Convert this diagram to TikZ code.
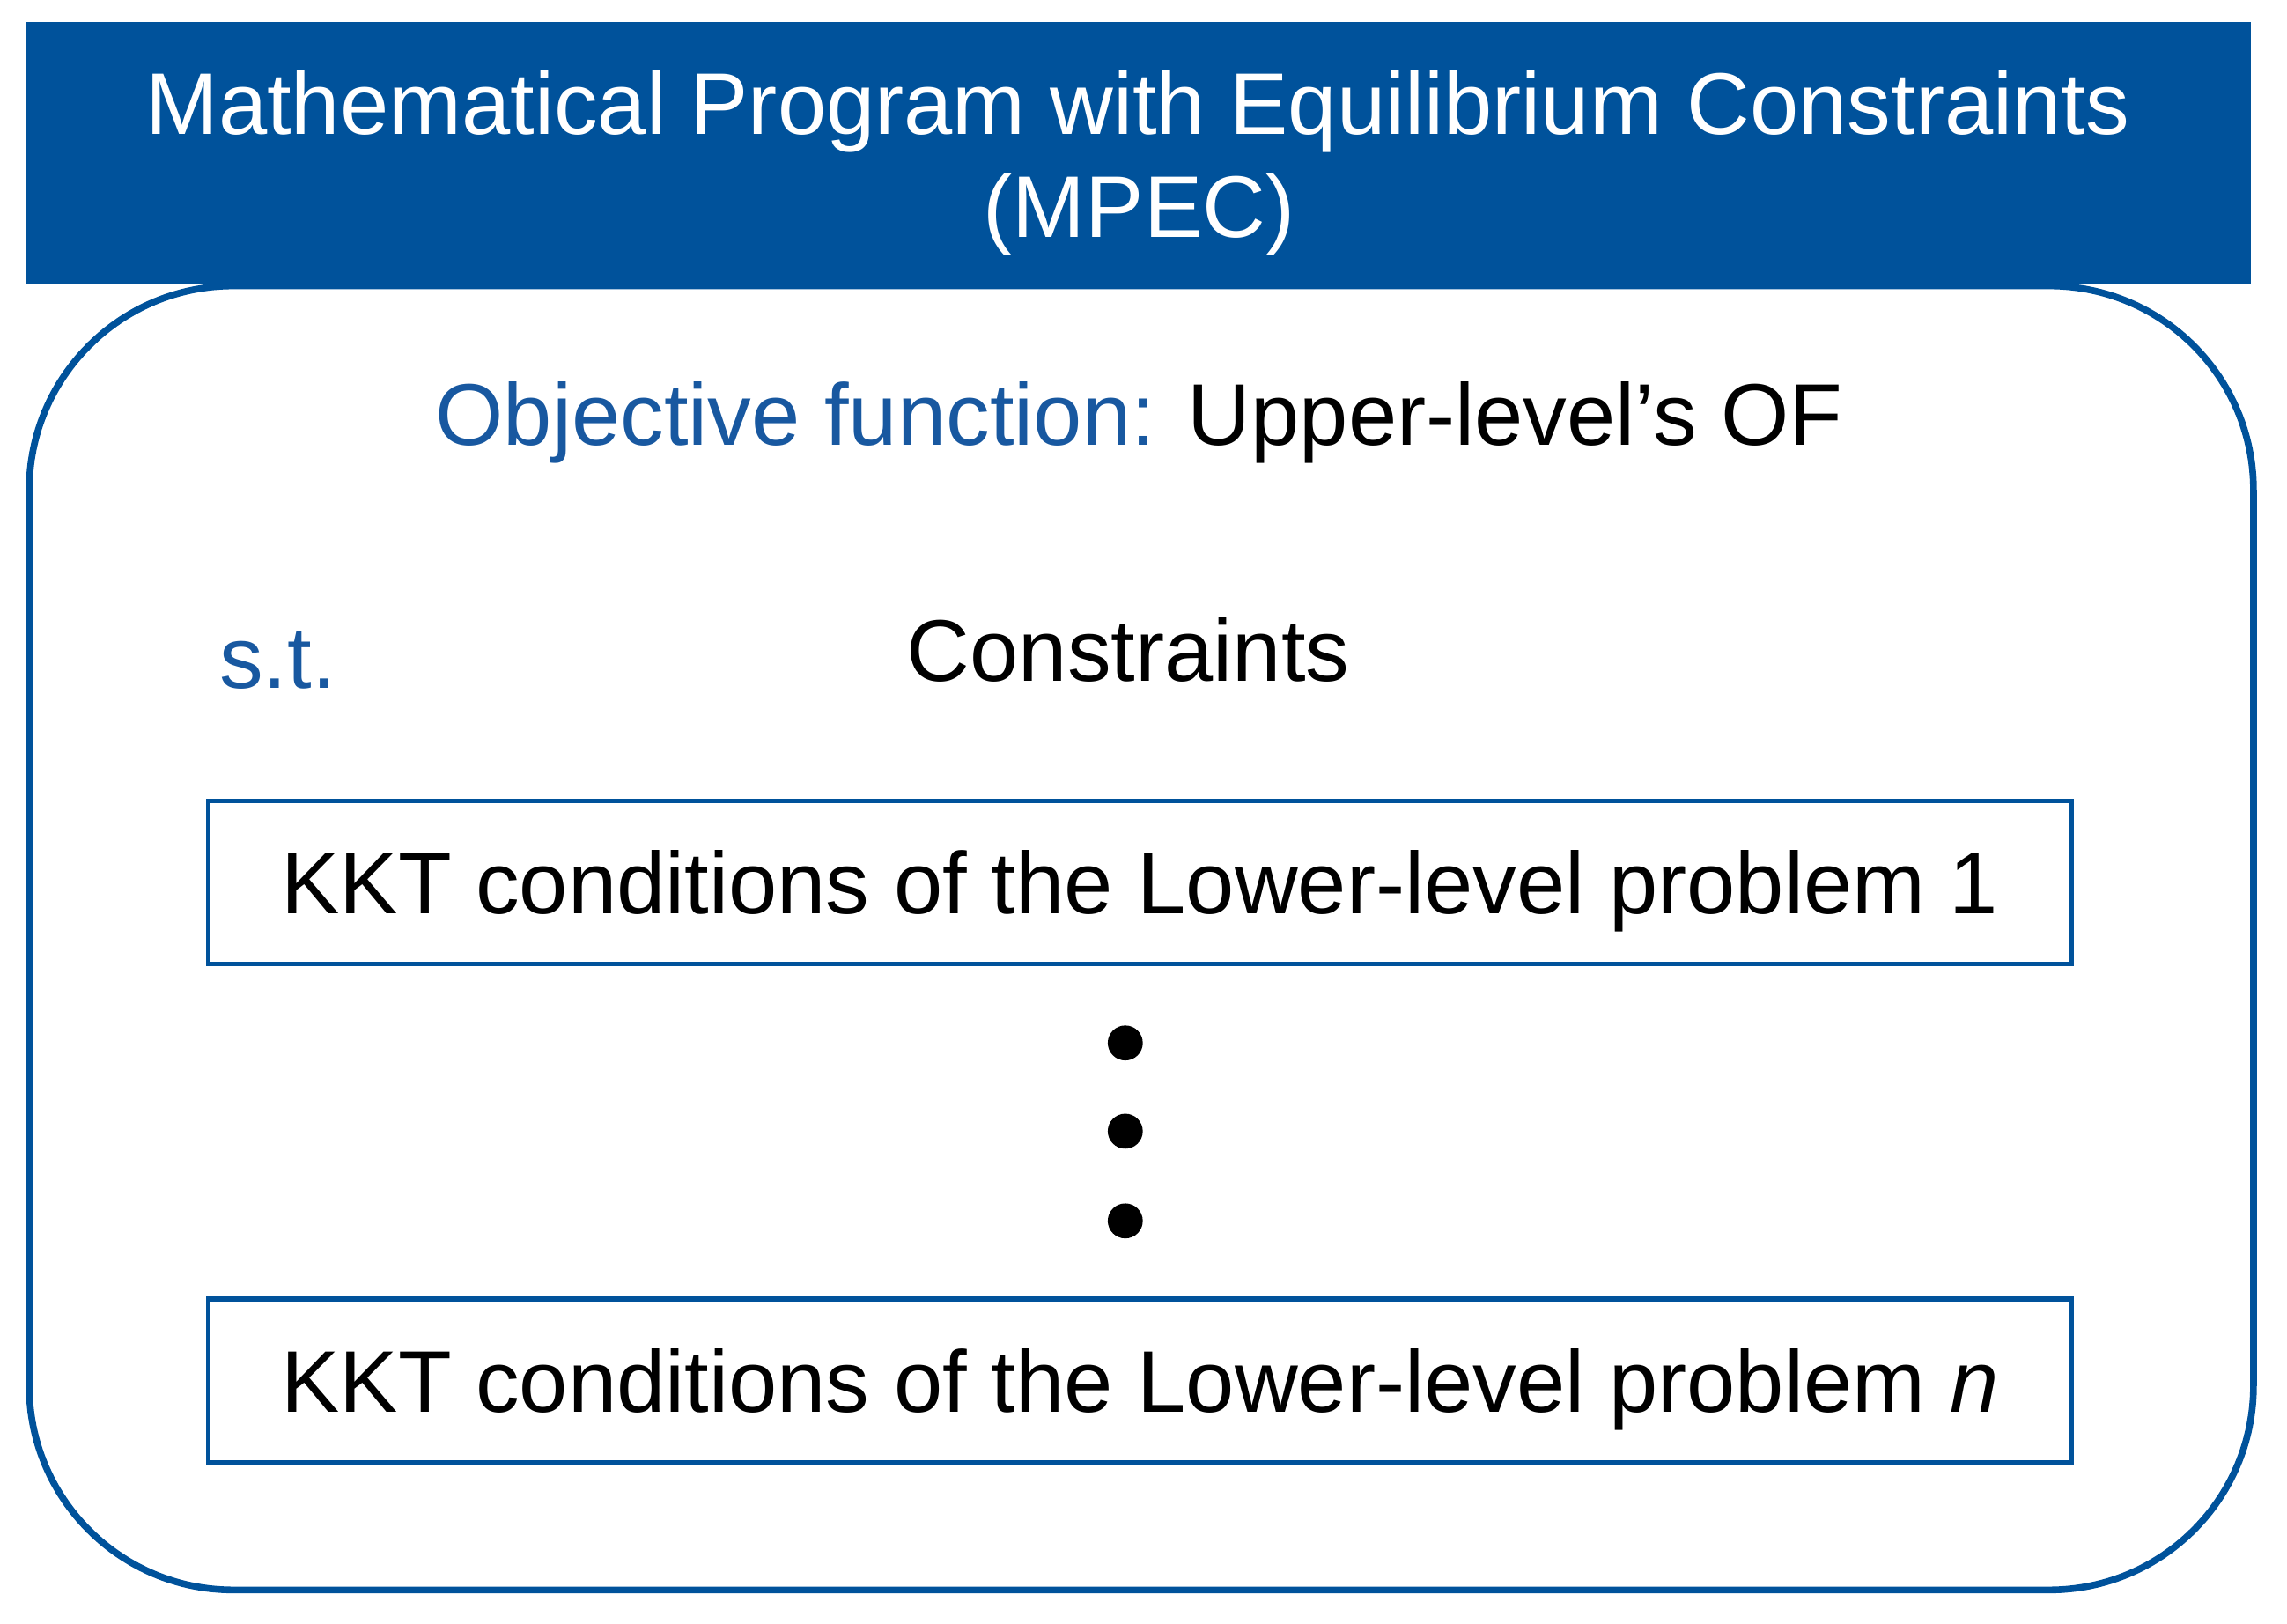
\documentclass[tikz,border=0pt]{standalone}
\usepackage{fontspec}
\setmainfont{Liberation Sans}
\definecolor{mpblue}{RGB}{0,82,155}
\definecolor{txtblue}{RGB}{24,88,160}
\begin{document}
\begin{tikzpicture}[x=0.5pt,y=-0.5pt,
  bigfont/.style={font=\fontsize{30}{36}\selectfont},
  txt/.style={bigfont,inner sep=0pt,anchor=base},
  kktbox/.style={draw=mpblue,line width=1.6pt,fill=white,minimum width=638.5pt,minimum height=56pt,inner sep=0pt,bigfont,text height=21.5pt,text depth=0pt},
  dotmark/.style={circle,fill=black,inner sep=0pt,minimum size=12pt}]
\useasboundingbox (0,0) rectangle (1568,1113);
% outer rounded frame
\draw[mpblue,line width=2.3pt,rounded corners=70pt] (20,196) rectangle (1545,1090);
% header band
\node[fill=mpblue,inner sep=0pt,minimum width=762.5pt,minimum height=90pt] (header) at (780.5,105) {};
\node[txt,text=white] (h1) at (780,92) {Mathematical Program with Equilibrium Constraints};
\node[txt,text=white] (h2) at (781,163) {(MPEC)};
% objective
\node[txt] (obj) at (781,305) {\textcolor{txtblue}{Objective function:} Upper-level’s OF};
\node[txt,text=txtblue,anchor=base west] (st) at (150,472) {s.t.};
\node[txt] (cons) at (773.5,467) {Constraints};
% KKT boxes
\node[kktbox] (kkt1) at (781.5,605) {KKT conditions of the Lower-level problem 1};
\node[kktbox] (kktn) at (781.5,946.5) {KKT conditions of the Lower-level problem \textit{n}};
% dots
\node[dotmark] (d1) at (771.5,715) {};
\node[dotmark] (d2) at (771.5,775.5) {};
\node[dotmark] (d3) at (771.5,837) {};
\end{tikzpicture}
\end{document}
